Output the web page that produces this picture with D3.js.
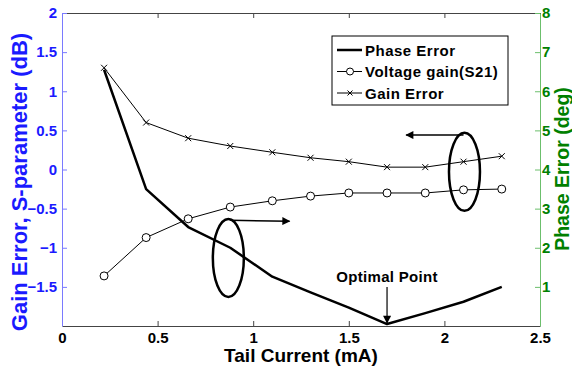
<!DOCTYPE html>
<html>
<head>
<meta charset="utf-8">
<script src="https://cdn.jsdelivr.net/npm/d3@7"></script>
<style>
  body { margin: 0; background: #fff; }
  text { font-family: "Liberation Sans", Arial, sans-serif; font-weight: bold; }
</style>
</head>
<body>
<svg id="chart" width="572" height="368"></svg>
<script>
// tail current (mA)
let current = [0.22, 0.44, 0.66, 0.88, 1.1, 1.3, 1.5, 1.7, 1.9, 2.1, 2.3];
// left axis (dB)
let gainError = [1.3, 0.6, 0.4, 0.3, 0.22, 0.15, 0.1, 0.03, 0.03, 0.1, 0.17];
let voltageGain = [-1.36, -0.87, -0.63, -0.48, -0.4, -0.34, -0.3, -0.3, -0.3, -0.26, -0.25];
// right axis (deg)
let phaseError = [6.55, 3.5, 2.53, 2.0, 1.26, 0.86, 0.47, 0.05, 0.33, 0.62, 1.0];

let xTicks = [0, 0.5, 1, 1.5, 2, 2.5];
let yLeftTicks = [-1.5, -1, -0.5, 0, 0.5, 1, 1.5, 2];
let yRightTicks = [1, 2, 3, 4, 5, 6, 7, 8];

let blue = "#1a1aff", green = "#008000";
let pl = 62, pr = 540, pt = 13, pb = 326;

let svg = d3.select("#chart");
let x = d3.scaleLinear().domain([0, 2.5]).range([pl, pr]);
let yL = d3.scaleLinear().domain([-2, 2]).range([pb, pt]);
let yR = d3.scaleLinear().domain([0, 8]).range([pb, pt]);

// axes
let axBottom = svg.append("g").attr("transform", "translate(0," + pb + ")")
    .call(d3.axisBottom(x).tickValues(xTicks).tickSizeInner(-5).tickSizeOuter(0).tickPadding(6).tickFormat(d3.format("")));
let axTop = svg.append("g").attr("transform", "translate(0," + pt + ")")
    .call(d3.axisTop(x).tickValues(xTicks).tickSizeInner(-5).tickSizeOuter(0).tickFormat(""));
let axLeft = svg.append("g").attr("transform", "translate(" + pl + ",0)")
    .call(d3.axisLeft(yL).tickValues(yLeftTicks).tickSizeInner(-5).tickSizeOuter(0).tickPadding(5).tickFormat(d3.format("")));
let axRight = svg.append("g").attr("transform", "translate(" + pr + ",0)")
    .call(d3.axisRight(yR).tickValues(yRightTicks).tickSizeInner(-5).tickSizeOuter(0).tickPadding(2));

[axBottom, axTop].forEach(a => {
    a.selectAll("path, line").attr("stroke", "#444");
    a.selectAll("text").style("font-size", "15px").attr("fill", "#000");
});
axLeft.selectAll("path, line").attr("stroke", "#7a7aff");
axLeft.selectAll("text").style("font-size", "15px").attr("fill", blue);
axRight.selectAll("path, line").attr("stroke", "#6cbf6c");
axRight.selectAll("text").style("font-size", "15px").attr("fill", green);

// axis titles
svg.append("text").attr("x", (pl + pr) / 2).attr("y", 362).attr("text-anchor", "middle")
    .style("font-size", "19px").attr("fill", "#000").text("Tail Current (mA)");
svg.append("text").attr("transform", "translate(27,182) rotate(-90)")
    .attr("text-anchor", "middle").style("font-size", "22px").attr("fill", blue)
    .text("Gain Error, S-parameter (dB)");
svg.append("text").attr("transform", "translate(569,169) rotate(-90)")
    .attr("text-anchor", "middle").style("font-size", "19.5px").attr("fill", green)
    .text("Phase Error (deg)");

// lines
let idx = d3.range(current.length);
let lineL = arr => d3.line().x(i => x(current[i])).y(i => yL(arr[i]))(idx);
let lineR = arr => d3.line().x(i => x(current[i])).y(i => yR(arr[i]))(idx);

svg.append("path").attr("d", lineR(phaseError)).attr("fill", "none")
    .attr("stroke", "#000").attr("stroke-width", 2.5).attr("stroke-linejoin", "round");
svg.append("path").attr("d", lineL(voltageGain)).attr("fill", "none")
    .attr("stroke", "#000").attr("stroke-width", 1);
svg.append("path").attr("d", lineL(gainError)).attr("fill", "none")
    .attr("stroke", "#000").attr("stroke-width", 1);

svg.selectAll("circle.vg").data(idx).enter().append("circle")
    .attr("class", "vg")
    .attr("cx", i => x(current[i])).attr("cy", i => yL(voltageGain[i]))
    .attr("r", 4).attr("fill", "#fff").attr("stroke", "#000").attr("stroke-width", 1);

function cross(g, cx, cy, s) {
    g.append("path").attr("d", "M" + (cx - s) + "," + (cy - s) + "L" + (cx + s) + "," + (cy + s)
        + "M" + (cx - s) + "," + (cy + s) + "L" + (cx + s) + "," + (cy - s))
        .attr("stroke", "#000").attr("stroke-width", 1);
}
let crosses = svg.append("g");
idx.forEach(i => cross(crosses, x(current[i]), yL(gainError[i]), 3));

// annotations
let defs = svg.append("defs");
defs.append("marker").attr("id", "arr").attr("viewBox", "0 0 10 10").attr("refX", 9).attr("refY", 5)
    .attr("markerWidth", 10).attr("markerHeight", 8).attr("markerUnits", "userSpaceOnUse").attr("orient", "auto")
    .append("path").attr("d", "M0,0L10,5L0,10Z").attr("fill", "#000");

svg.append("ellipse").attr("cx", x(0.87)).attr("cy", yL(-1.13)).attr("rx", 15.5).attr("ry", 39)
    .attr("fill", "none").attr("stroke", "#000").attr("stroke-width", 2.5);
svg.append("line").attr("x1", x(0.88)).attr("y1", yL(-0.65)).attr("x2", x(1.19)).attr("y2", yL(-0.66))
    .attr("stroke", "#000").attr("stroke-width", 1.5).attr("marker-end", "url(#arr)");

svg.append("ellipse").attr("cx", x(2.105)).attr("cy", yL(-0.03)).attr("rx", 15.5).attr("ry", 39)
    .attr("fill", "none").attr("stroke", "#000").attr("stroke-width", 2.5);
svg.append("line").attr("x1", x(2.1)).attr("y1", yL(0.44)).attr("x2", x(1.8)).attr("y2", yL(0.44))
    .attr("stroke", "#000").attr("stroke-width", 1.5).attr("marker-end", "url(#arr)");

svg.append("text").attr("x", x(1.7)).attr("y", 282).attr("text-anchor", "middle")
    .style("font-size", "15px").style("letter-spacing", "0.3px").attr("fill", "#000").text("Optimal Point");
svg.append("line").attr("x1", x(1.7)).attr("y1", 287).attr("x2", x(1.7)).attr("y2", yR(0.05) - 1)
    .attr("stroke", "#000").attr("stroke-width", 1.2).attr("marker-end", "url(#arr)");

// legend
let lg = svg.append("g");
lg.append("rect").attr("x", 332).attr("y", 36).attr("width", 176).attr("height", 69)
    .attr("fill", "#fff").attr("stroke", "#000").attr("stroke-width", 1);
let legendItems = ["Phase Error", "Voltage gain(S21)", "Gain Error"];
legendItems.forEach((name, i) => {
    let ly = 50 + i * 21.5;
    lg.append("line").attr("x1", 337).attr("x2", 362).attr("y1", ly).attr("y2", ly)
        .attr("stroke", "#000").attr("stroke-width", i === 0 ? 2.5 : 1);
    if (i === 1) lg.append("circle").attr("cx", 350).attr("cy", ly).attr("r", 3.5)
        .attr("fill", "#fff").attr("stroke", "#000");
    if (i === 2) cross(lg, 350, ly, 2.5);
    lg.append("text").attr("x", 365).attr("y", ly + 5.5).style("font-size", "15px")
        .style("letter-spacing", "0.5px").attr("fill", "#000").text(name);
});
</script>
</body>
</html>
